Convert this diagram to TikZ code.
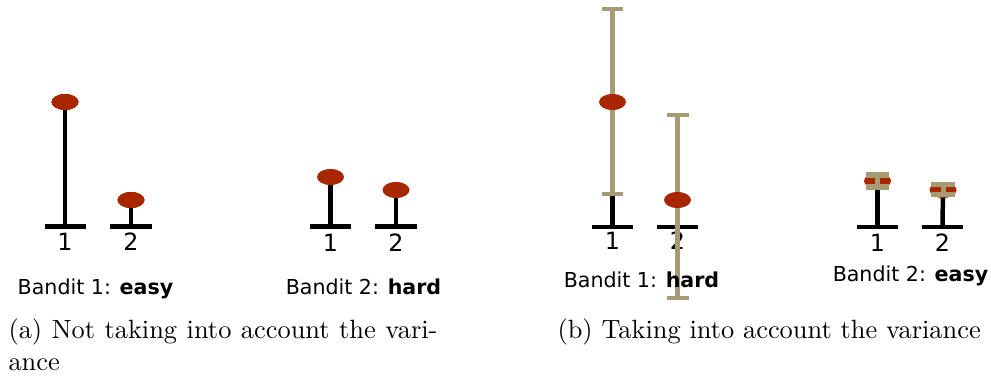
\documentclass[tikz,border=0pt]{standalone}
\usepackage{fontspec}
\newfontfamily\dejavu{DejaVu Sans}
\usetikzlibrary{shapes.geometric}
\definecolor{dotred}{RGB}{168,38,0}
\definecolor{tanc}{RGB}{166,155,117}
\tikzset{
  basebar/.style={line width=1.63pt, black},
  stem/.style={line width=1.70pt, black},
  dot/.style={ellipse, fill=dotred, draw=none, minimum width=10.23pt, minimum height=6.06pt, inner sep=0pt},
  errline/.style={line width=1.89pt, tanc},
  errcap/.style={line width=1.70pt, tanc},
  errcapthick/.style={line width=2.05pt, tanc},
  armlabel/.style={font=\dejavu\fontsize{9}{10}\selectfont, anchor=base, inner sep=0pt},
  banditlabel/.style={font=\dejavu\fontsize{7.8}{9}\selectfont, anchor=base, inner sep=0pt},
  captext/.style={anchor=base west, inner sep=0pt, font=\fontsize{10}{12}\selectfont},
}
\begin{document}
\begin{tikzpicture}[x=0.3788pt, y=-0.3788pt]
\useasboundingbox (0,0) rectangle (991,381);

% ---------- Panel (a), Bandit 1 ----------
\coordinate (a1b) at (65,226.5);
\coordinate (a2b) at (131,226.5);
\draw[basebar] (a1b) ++(-20.5,0) -- ++(41,0);
\draw[basebar] (a2b) ++(-21,0) -- ++(42,0);
\node[dot] (a1d) at (65,102) {};
\node[dot] (a2d) at (131,200) {};
\draw[stem] (a1b) -- (a1d.center);
\draw[stem] (a2b) -- (a2d.center);
\node[dot] at (a1d) {};
\node[dot] at (a2d) {};
\node[armlabel] (a1l) at (65,250.5) {1};
\node[armlabel] (a2l) at (131,250.5) {2};
\node[banditlabel] (aB1) at (95.5,295) {Bandit 1: \textbf{easy}};

% ---------- Panel (a), Bandit 2 ----------
\coordinate (b1b) at (330.5,226.5);
\coordinate (b2b) at (396,226.5);
\draw[basebar] (b1b) ++(-20.5,0) -- ++(41,0);
\draw[basebar] (b2b) ++(-21,0) -- ++(42,0);
\draw[stem] (b1b) -- (330.5,177);
\draw[stem] (b2b) -- (396,190);
\node[dot] (b1d) at (330.5,177) {};
\node[dot] (b2d) at (396,190) {};
\node[armlabel] (b1l) at (330.5,251.5) {1};
\node[armlabel] (b2l) at (396,251.5) {2};
\node[banditlabel] (aB2) at (363.5,295) {Bandit 2: \textbf{hard}};

% ---------- Panel (b), Bandit 1 ----------
\coordinate (c1b) at (612.5,227);
\coordinate (c2b) at (677.5,227);
\coordinate (c1t) at (612.5,9);
\coordinate (c1u) at (612.5,194);
\coordinate (c2t) at (677.5,115);
\coordinate (c2u) at (677.5,298);
\draw[basebar] (c1b) ++(-20.5,0) -- ++(41,0);
\draw[basebar] (c2b) ++(-20.5,0) -- ++(41,0);
\draw[stem] (c1b) -- (c1u);
\draw[stem] (c2b) -- (677.5,200);
\node[armlabel] (c1l) at (612.5,250) {1};
\node[armlabel] (c2l) at (677.5,250) {2};
\draw[errline] (c1t) -- (c1u);
\draw[errcap] (c1t) ++(-10.5,0) -- ++(21,0);
\draw[errcap] (c1u) ++(-10.5,0) -- ++(21,0);
\draw[errline] (c2t) -- (c2u);
\draw[errcap] (c2t) ++(-11,0) -- ++(22,0);
\draw[errcap] (c2u) ++(-11,0) -- ++(22,0);
\node[dot] (c1d) at (612.5,102) {};
\node[dot] (c2d) at (677.5,200) {};
\node[banditlabel] (bB1) at (641.5,288) {Bandit 1: \textbf{hard}};

% ---------- Panel (b), Bandit 2 ----------
\coordinate (d1b) at (877.5,227);
\coordinate (d2b) at (942.5,227);
\coordinate (d1t) at (877.5,175);
\coordinate (d1u) at (877.5,187);
\coordinate (d2t) at (943,184.5);
\coordinate (d2u) at (943,194.5);
\draw[basebar] (d1b) ++(-20.5,0) -- ++(41,0);
\draw[basebar] (d2b) ++(-20.5,0) -- ++(41,0);
\draw[stem] (d1b) -- (877.5,181);
\draw[stem] (d2b) -- (943,190);
\node[dot] (d1d) at (877.5,181) {};
\node[dot] (d2d) at (943,190) {};
\draw[errline] (d1t) -- (d1u);
\draw[errcapthick] (d1t) ++(-11.5,0) -- ++(23,0);
\draw[errcapthick] (d1u) ++(-11.5,0) -- ++(23,0);
\draw[errline] (d2t) -- (d2u);
\draw[errcapthick] (d2t) ++(-12,0) -- ++(24,0);
\draw[errcapthick] (d2u) ++(-12,0) -- ++(24,0);
\node[armlabel] (d1l) at (877.5,252) {1};
\node[armlabel] (d2l) at (942.5,252) {2};
\node[banditlabel] (bB2) at (910.5,282) {Bandit 2: \textbf{easy}};

% ---------- Captions ----------
\node[captext] (capa) at (8,339) {\parbox[t]{162.5pt}{(a) Not taking into account the vari-\linebreak ance}};
\node[captext] (capb) at (557,339) {(b) Taking into account the variance};
\end{tikzpicture}
\end{document}
